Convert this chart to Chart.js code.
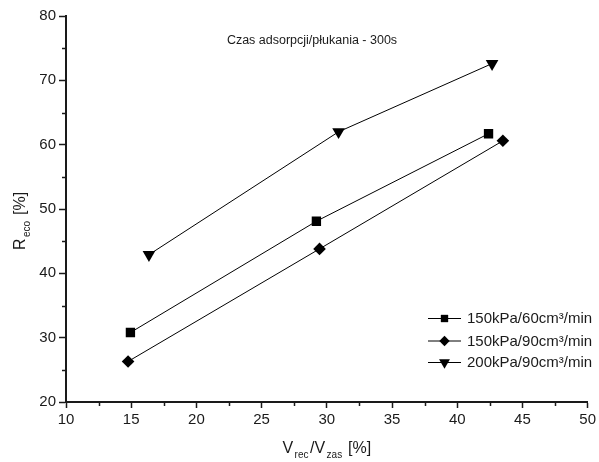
<!DOCTYPE html>
<html><head><meta charset="utf-8">
<script src="https://cdn.jsdelivr.net/npm/chart.js@4/dist/chart.umd.min.js"></script>
<style>html,body{margin:0;padding:0;background:#fff}#wrap{width:599px;height:462px}</style>
</head><body><div id="wrap"><canvas id="c" width="599" height="462"></canvas></div>
<script>
const seriesNames = ['150kPa/60cm³/min', '150kPa/90cm³/min', '200kPa/90cm³/min'];
const s1x = [14.94, 29.2, 42.4];
const s1y = [30.8, 48.1, 61.7];
const s2x = [14.76, 29.44, 43.5];
const s2y = [26.3, 43.8, 60.6];
const s3x = [16.36, 30.9, 42.67];
const s3y = [42.9, 62.0, 72.6];
const xTickValues = [10, 15, 20, 25, 30, 35, 40, 45, 50];
const yTickValues = [20, 30, 40, 50, 60, 70, 80];
const xMinorValues = [12.5, 17.5, 22.5, 27.5, 32.5, 37.5, 42.5, 47.5];
const yMinorValues = [25, 35, 45, 55, 65, 75];
const chartTitle = 'Czas adsorpcji/płukania - 300s';
const xTitleParts = [['V', 'rec'], ['/V', 'zas'], [' [%]', '']];
const yTitleParts = [['R', 'eco'], [' [%]', '']];

const FONT = '"Liberation Sans", Arial, sans-serif';
const INK = '#1a1a1a';

function pts(xs, ys) { return xs.map((x, i) => ({ x: x, y: ys[i] })); }

const markerDefs = [
  { style: 'rect', radius: 6.6, rotation: 0 },
  { style: 'rectRot', radius: 6.3, rotation: 0 },
  { style: 'triangle', radius: 7.3, rotation: 180 }
];
const seriesData = [pts(s1x, s1y), pts(s2x, s2y), pts(s3x, s3y)];

const datasets = seriesData.map((d, i) => ({
  label: seriesNames[i],
  data: d,
  showLine: true,
  borderColor: '#000',
  borderWidth: 1,
  backgroundColor: '#000',
  pointStyle: markerDefs[i].style,
  pointRadius: markerDefs[i].radius,
  pointRotation: markerDefs[i].rotation,
  pointBackgroundColor: '#000',
  pointBorderColor: '#000',
  pointBorderWidth: 0,
  pointHoverRadius: markerDefs[i].radius
}));

function drawMarker(ctx, style, x, y, r) {
  ctx.beginPath();
  if (style === 'rect') {
    const s = r * Math.SQRT1_2;
    ctx.rect(x - s, y - s, 2 * s, 2 * s);
  } else if (style === 'rectRot') {
    ctx.moveTo(x - r, y); ctx.lineTo(x, y - r); ctx.lineTo(x + r, y); ctx.lineTo(x, y + r); ctx.closePath();
  } else {
    const h = r * Math.sqrt(3) / 2;
    ctx.moveTo(x - h, y - r / 2); ctx.lineTo(x + h, y - r / 2); ctx.lineTo(x, y + r); ctx.closePath();
  }
  ctx.fill();
}

function drawParts(ctx, parts, mainSize, subSize, subDrop, gap) {
  let w = 0;
  parts.forEach(p => {
    ctx.font = mainSize + 'px ' + FONT; w += ctx.measureText(p[0]).width;
    if (p[1]) { ctx.font = subSize + 'px ' + FONT; w += ctx.measureText(p[1]).width + 2 * gap; }
  });
  let cx = -w / 2;
  parts.forEach(p => {
    ctx.font = mainSize + 'px ' + FONT; ctx.fillText(p[0], cx, 0); cx += ctx.measureText(p[0]).width;
    if (p[1]) { ctx.font = subSize + 'px ' + FONT; ctx.fillText(p[1], cx + gap, subDrop); cx += ctx.measureText(p[1]).width + 2 * gap; }
  });
}

const decor = {
  id: 'decor',
  afterDraw(chart) {
    const ctx = chart.ctx;
    const xs = chart.scales.x, ys = chart.scales.y;
    const area = chart.chartArea;
    ctx.save();
    // minor ticks
    ctx.strokeStyle = INK; ctx.lineWidth = 1.5;
    xMinorValues.forEach(v => {
      const px = Math.round(xs.getPixelForValue(v)) + 0.5;
      ctx.beginPath(); ctx.moveTo(px, area.bottom); ctx.lineTo(px, area.bottom + 4); ctx.stroke();
    });
    yMinorValues.forEach(v => {
      const py = Math.round(ys.getPixelForValue(v)) + 0.5;
      ctx.beginPath(); ctx.moveTo(area.left, py); ctx.lineTo(area.left - 4, py); ctx.stroke();
    });
    // title
    ctx.fillStyle = INK;
    ctx.textBaseline = 'middle'; ctx.textAlign = 'center';
    ctx.font = '12.5px ' + FONT;
    ctx.fillText(chartTitle, 312, 41);
    // axis titles
    ctx.textAlign = 'left'; ctx.textBaseline = 'alphabetic';
    ctx.save();
    ctx.translate((area.left + area.right) / 2, 453);
    drawParts(ctx, xTitleParts, 16, 10, 5, 1.5);
    ctx.restore();
    ctx.save();
    ctx.translate(25, 221);
    ctx.rotate(-Math.PI / 2);
    drawParts(ctx, yTitleParts, 16, 10, 5, 1.5);
    ctx.restore();
    // legend
    const rows = [318, 340.5, 362];
    chart.data.datasets.forEach((ds, i) => {
      const y = rows[i];
      ctx.strokeStyle = '#000'; ctx.lineWidth = 1;
      ctx.beginPath(); ctx.moveTo(428, y + 0.5); ctx.lineTo(461, y + 0.5); ctx.stroke();
      ctx.fillStyle = '#000';
      drawMarker(ctx, ds.pointStyle, 444.5, y + 0.5, [5.2, 5.2, 6.3][i]);
      ctx.fillStyle = INK;
      ctx.font = '15px ' + FONT; ctx.textBaseline = 'middle'; ctx.textAlign = 'left';
      ctx.fillText(ds.label, 467, y + 1);
    });
    ctx.restore();
  }
};

new Chart(document.getElementById('c'), {
  type: 'scatter',
  data: { datasets: datasets },
  plugins: [decor],
  options: {
    responsive: false,
    devicePixelRatio: 1,
    animation: false,
    layout: { padding: { top: 16, right: 9, left: 0, bottom: 0 } },
    plugins: { legend: { display: false }, tooltip: { enabled: false }, title: { display: false } },
    scales: {
      x: {
        type: 'linear', min: 10, max: 50,
        afterBuildTicks: s => { s.ticks = xTickValues.map(v => ({ value: v })); },
        afterFit: s => { s.height = 60; },
        ticks: { color: INK, font: { family: FONT, size: 15 }, padding: 3, maxRotation: 0, autoSkip: false },
        grid: { drawOnChartArea: false, drawTicks: true, tickLength: 6, tickWidth: 1.5, tickColor: INK },
        border: { display: true, color: INK, width: 2 }
      },
      y: {
        type: 'linear', min: 20, max: 80,
        afterBuildTicks: s => { s.ticks = yTickValues.map(v => ({ value: v })); },
        afterFit: s => { s.width = 66; },
        ticks: { color: INK, font: { family: FONT, size: 15 }, padding: 3, autoSkip: false },
        grid: { drawOnChartArea: false, drawTicks: true, tickLength: 7, tickWidth: 1.5, tickColor: INK },
        border: { display: true, color: INK, width: 2 }
      }
    }
  }
});
</script></body></html>
